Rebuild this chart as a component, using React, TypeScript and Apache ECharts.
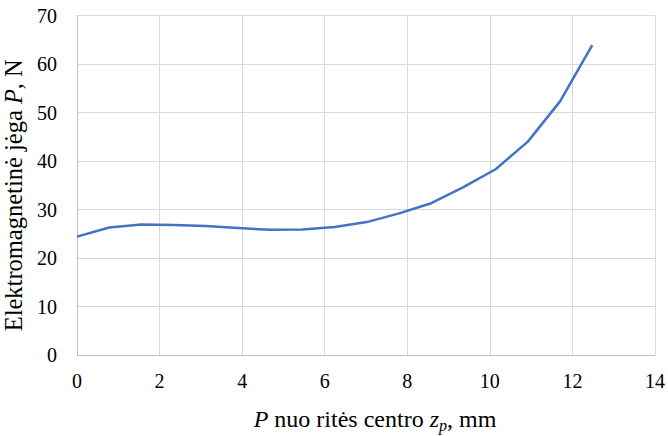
import React, { useEffect, useRef } from "react";
import * as echarts from "echarts";

const xValues = [0, 0.78, 1.56, 2.34, 3.12, 3.9, 4.68, 5.46, 6.24, 7.02, 7.8, 8.58, 9.36, 10.14, 10.92, 11.7, 12.48];
const forceValues = [24.4, 26.3, 26.9, 26.8, 26.6, 26.2, 25.8, 25.9, 26.4, 27.4, 29.2, 31.3, 34.6, 38.3, 44.0, 52.3, 63.9];
const xTicks = { min: 0, max: 14, step: 2 };
const yTicks = { min: 0, max: 70, step: 10 };

const FONT = "Liberation Serif";
const TICK_FS = 20;
const XNAME_FS = 24;
const YNAME_FS = 24.5;

export default function App() {
  const ref = useRef<HTMLDivElement>(null);
  useEffect(() => {
    if (!ref.current) return;
    const chart = echarts.init(ref.current, null, { renderer: "svg" });
    const data = xValues.map((x, i) => [x, forceValues[i]]);
    chart.setOption({
      animation: false,
      backgroundColor: "#ffffff",
      textStyle: { fontFamily: FONT },
      grid: { left: 77, right: 13, top: 15.5, bottom: 81, containLabel: false, outerBoundsMode: "none" },
      xAxis: {
        type: "value",
        min: xTicks.min,
        max: xTicks.max,
        interval: xTicks.step,
        axisLine: { show: true, lineStyle: { color: "#bfbfbf", width: 1 } },
        axisTick: { show: false },
        splitLine: { show: true, lineStyle: { color: "#d9d9d9", width: 1 } },
        axisLabel: { color: "#000", fontFamily: FONT, fontSize: TICK_FS, margin: 16 },
        name: "{i|P} nuo ritės centro {i|z}{sub|p}, mm",
        nameLocation: "middle",
        nameGap: 50,
        nameTextStyle: {
          color: "#000",
          fontFamily: FONT,
          fontSize: XNAME_FS,
          padding: [0, 0, 0, 18],
          rich: {
            i: { fontStyle: "italic", fontFamily: FONT, fontSize: XNAME_FS, color: "#000" },
            sub: { fontStyle: "italic", fontFamily: FONT, fontSize: 16, color: "#000", verticalAlign: "bottom", padding: [12, 0, 0, 0] },
          },
        },
      },
      yAxis: {
        type: "value",
        min: yTicks.min,
        max: yTicks.max,
        interval: yTicks.step,
        axisLine: { show: true, lineStyle: { color: "#bfbfbf", width: 1 } },
        axisTick: { show: false },
        splitLine: { show: true, lineStyle: { color: "#d9d9d9", width: 1 } },
        axisLabel: { color: "#000", fontFamily: FONT, fontSize: TICK_FS, margin: 20 },
        name: "Elektromagnetinė jėga {i|P}, N",
        nameLocation: "middle",
        nameGap: 48,
        nameTextStyle: {
          color: "#000",
          fontFamily: FONT,
          fontSize: YNAME_FS,
          padding: [0, 20, 0, 0],
          rich: {
            i: { fontStyle: "italic", fontFamily: FONT, fontSize: YNAME_FS, color: "#000" },
          },
        },
      },
      series: [
        {
          type: "line",
          data,
          showSymbol: false,
          symbol: "none",
          lineStyle: { color: "#4472C4", width: 2.5 },
          itemStyle: { color: "#4472C4" },
        },
      ],
    });
    return () => chart.dispose();
  }, []);
  return <div ref={ref} style={{ width: 668, height: 436, position: "absolute", left: 0, top: 0 }} />;
}
